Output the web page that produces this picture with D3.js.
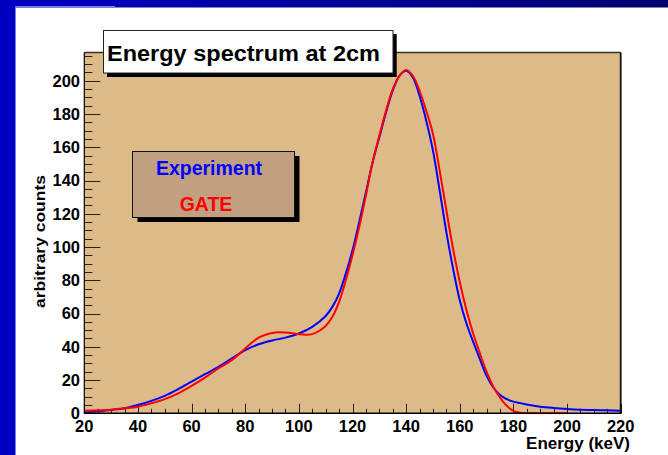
<!DOCTYPE html>
<html>
<head>
<meta charset="utf-8">
<script src="https://cdn.jsdelivr.net/npm/d3@7"></script>
<style>
html,body{margin:0;padding:0;background:#fff;}
svg{display:block;}
text{font-family:"Liberation Sans",Arial,Helvetica,sans-serif;font-weight:bold;}
</style>
</head>
<body>
<svg id="chart" width="668" height="455"></svg>
<script>
// ---- data ----
const title = "Energy spectrum at 2cm";
const xTitle = "Energy (keV)";
const yTitle = "arbitrary counts";
const seriesNames = ["Experiment", "GATE"];
const seriesColors = ["#0000ff", "#ff0000"];

const expEnergy = [20,25,30,35,40,45,50,55,60,65,70,75,80,85,90,95,100,105,110,112.5,115,117.5,120,122.5,125,127.5,130,132.5,135,137.5,140,142.5,145,147.5,150,152.5,155,157.5,160,162.5,165,167.5,170,172.5,175,177.5,180,185,190,195,200,205,210,215,220];
const expCounts = [0.5,1.2,2,3,5,7.5,10.5,14.5,19,23.5,28,33,38,41.5,43.8,45.5,48,52,58.5,64,72,84,98,115,133,151,166,181,194,203,206,202,191,176,158,134,109,87,68,54,43,32.5,22.5,15.5,11,8.5,7,5.3,4,3.2,2.6,2.2,2,1.8,1.6];

const gateEnergy = [20,25,30,35,40,45,50,55,60,65,70,75,80,85,90,92.5,95,97.5,100,102.5,105,107.5,110,112.5,115,117.5,120,122.5,125,127.5,130,132.5,135,137.5,140,142.5,145,147.5,150,152.5,155,157.5,160,162.5,165,167.5,170,172.5,175,177.5,180,182.5,185,190,195,200];
const gateCounts = [1.5,1.8,2.2,3,4,6,8.5,12,16.5,21.5,27,32,39,45.5,48.3,48.8,48.6,48.2,47.6,47.2,47.6,49.5,52.5,58,67,80,95,112,131,151,167,182,195,203,206.5,203,194,182,168,146,122,99,79,62,48,36,25,16,9.5,4.5,1.5,0.3,0,0,0,0];

const xTickValues = [20,40,60,80,100,120,140,160,180,200,220];
const yTickValues = [0,20,40,60,80,100,120,140,160,180,200];

// ---- layout ----
const svg = d3.select("#chart");
const W = 668, H = 455;
const fx0 = 84.3, fx1 = 620.7, fy0 = 52.5, fy1 = 413.3;

const x = d3.scaleLinear().domain([20, 220]).range([fx0, fx1]);
const y = d3.scaleLinear().domain([0, 217]).range([fy1, fy0]);

// slide background
const defs = svg.append("defs");
const grad = defs.append("linearGradient").attr("id","topband").attr("x1","0").attr("x2","1").attr("y1","0").attr("y2","0");
grad.append("stop").attr("offset","0%").attr("stop-color","#0000c4");
grad.append("stop").attr("offset","100%").attr("stop-color","#00006e");
svg.append("rect").attr("x",0).attr("y",0).attr("width",W).attr("height",H).attr("fill","#0000c0");
svg.append("rect").attr("x",0).attr("y",0).attr("width",W).attr("height",8).attr("fill","url(#topband)");
svg.append("rect").attr("x",15.5).attr("y",7.5).attr("width",W-15.5).attr("height",H-7.5).attr("fill","#ffffff");
svg.append("rect").attr("x",15).attr("y",6).attr("width",100).attr("height",1.5).attr("fill","#7c7ce8");

// frame
svg.append("rect").attr("x",fx0).attr("y",fy0).attr("width",fx1-fx0).attr("height",fy1-fy0)
  .attr("fill","#ddbb88");

// ticks
const tickG = svg.append("g").attr("stroke","#222").attr("stroke-width",1);
const yMinor = d3.range(0, 217, 5);
yMinor.forEach(v => {
  const major = v % 20 === 0;
  tickG.append("line").attr("x1",fx0).attr("x2",fx0 + (major?16:8))
    .attr("y1",Math.round(y(v))+0.5).attr("y2",Math.round(y(v))+0.5);
});
const xMinor = d3.range(20, 221, 5);
xMinor.forEach(v => {
  const major = v % 20 === 0;
  tickG.append("line").attr("x1",Math.round(x(v))+0.5).attr("x2",Math.round(x(v))+0.5)
    .attr("y1",fy1).attr("y2",fy1 - (major?9.5:4.5));
});

// curves
const clip = defs.append("clipPath").attr("id","plotclip");
clip.append("rect").attr("x",fx0).attr("y",fy0).attr("width",fx1-fx0).attr("height",fy1-fy0+1);

const line = d3.line().x(d => x(d[0])).y(d => y(Math.max(0, d[1]))).curve(d3.curveCatmullRom.alpha(0.5));
const plot = svg.append("g").attr("clip-path","url(#plotclip)");
plot.append("path").datum(expEnergy.map((e,i)=>[e,expCounts[i]]))
  .attr("d",line).attr("fill","none").attr("stroke",seriesColors[0]).attr("stroke-width",2);
plot.append("path").datum(gateEnergy.map((e,i)=>[e,gateCounts[i]]))
  .attr("d",line).attr("fill","none").attr("stroke",seriesColors[1]).attr("stroke-width",2);

// frame border
svg.append("line").attr("x1",fx0).attr("x2",fx1).attr("y1",fy0).attr("y2",fy0).attr("stroke","#3a3028").attr("stroke-width",1.5);
svg.append("line").attr("x1",fx1).attr("x2",fx1).attr("y1",fy0).attr("y2",fy1).attr("stroke","#111").attr("stroke-width",1.8);
svg.append("line").attr("x1",fx0).attr("x2",fx0).attr("y1",fy0).attr("y2",fy1+0.5).attr("stroke","#000").attr("stroke-width",1.2);
svg.append("line").attr("x1",fx0).attr("x2",fx1+0.9).attr("y1",fy1).attr("y2",fy1).attr("stroke","#000").attr("stroke-width",1.5);

// tick labels
yTickValues.forEach(v => {
  svg.append("text").attr("x",80).attr("y",y(v)+5.8).attr("text-anchor","end")
    .attr("font-size",16.5).attr("fill","#000").text(v);
});
xTickValues.forEach(v => {
  svg.append("text").attr("x",x(v)).attr("y",fy1+18.5).attr("text-anchor","middle")
    .attr("font-size",16.5).attr("fill","#000").text(v);
});

// axis titles
svg.append("text").attr("x",630).attr("y",449).attr("text-anchor","end")
  .attr("font-size",17).attr("fill","#000").text(xTitle);
svg.append("text").attr("transform","translate(45,241.5) rotate(-90)").attr("text-anchor","middle")
  .attr("font-size",15.5).attr("fill","#000")
  .attr("textLength",133).attr("lengthAdjust","spacingAndGlyphs").text(yTitle);

// title box
svg.append("rect").attr("x",107).attr("y",34).attr("width",289.7).attr("height",43).attr("fill","#000");
svg.append("rect").attr("x",103.5).attr("y",30.5).attr("width",289.5).attr("height",42.5)
  .attr("fill","#fff").attr("stroke","#222").attr("stroke-width",1);
svg.append("text").attr("x",107).attr("y",61).attr("font-size",22).attr("fill","#000")
  .attr("textLength",273).attr("lengthAdjust","spacingAndGlyphs").text(title);

// legend box
svg.append("rect").attr("x",137.5).attr("y",156).attr("width",162).attr("height",66).attr("fill","#000");
svg.append("rect").attr("x",132.5).attr("y",151.5).attr("width",162).attr("height",66)
  .attr("fill","#c0a080").attr("stroke","#111").attr("stroke-width",1);
svg.append("text").attr("x",209).attr("y",175).attr("text-anchor","middle")
  .attr("font-size",19.5).attr("fill",seriesColors[0]).text(seriesNames[0]);
svg.append("text").attr("x",206).attr("y",211).attr("text-anchor","middle")
  .attr("font-size",19.5).attr("fill",seriesColors[1]).text(seriesNames[1]);
</script>
</body>
</html>
